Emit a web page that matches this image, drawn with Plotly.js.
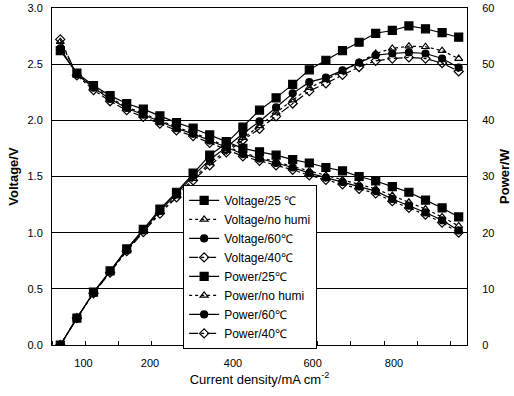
<!DOCTYPE html>
<html><head><meta charset="utf-8">
<script src="https://cdn.plot.ly/plotly-3.0.1.min.js"></script>
<style>html,body{margin:0;padding:0;background:#fff}#chart{width:514px;height:396px}</style>
</head><body><div id="chart"></div>
<script>
// category index positions (equally spaced measurement points)
const pointIndex = [0,1,2,3,4,5,6,7,8,9,10,11,12,13,14,15,16,17,18,19,20,21,22,23,24];
// axis labels and the category positions where they are printed
const tickLabels = ['100','200','400','600','800'];
const tickPositions = [1.4, 5.4, 10.4, 15.2, 20.1];

const voltage25  = [2.62,2.42,2.31,2.22,2.15,2.10,2.04,1.98,1.93,1.87,1.81,1.75,1.72,1.69,1.65,1.62,1.58,1.55,1.50,1.46,1.41,1.36,1.29,1.22,1.14];
const voltageNoH = [2.70,2.41,2.30,2.20,2.12,2.06,2.00,1.94,1.89,1.83,1.77,1.71,1.67,1.63,1.59,1.55,1.51,1.47,1.43,1.39,1.33,1.27,1.21,1.14,1.06];
const voltage60  = [2.64,2.41,2.29,2.19,2.11,2.05,1.99,1.93,1.88,1.82,1.76,1.70,1.66,1.62,1.58,1.53,1.49,1.45,1.41,1.37,1.30,1.24,1.18,1.11,1.02];
const voltage40  = [2.72,2.40,2.27,2.17,2.09,2.03,1.97,1.91,1.86,1.80,1.74,1.68,1.64,1.60,1.56,1.51,1.47,1.43,1.39,1.35,1.28,1.22,1.16,1.09,1.00];

const power25  = [0,4.8,9.4,13.2,17.1,20.6,24.2,27.2,30.6,33.8,35.9,38.8,41.8,44.0,46.4,49.0,50.7,52.4,53.9,55.5,56.0,56.8,56.3,55.6,54.8];
const powerNoH = [0,4.8,9.2,13.0,16.8,20.2,23.6,26.5,29.6,32.4,34.6,36.9,39.0,41.4,43.6,45.8,47.2,48.8,50.3,51.9,52.8,53.2,53.1,52.4,51.0];
const power60  = [0,4.8,9.3,13.1,16.9,20.4,23.9,26.9,30.1,33.0,35.2,37.6,39.8,42.3,44.8,46.8,47.6,48.9,50.3,51.6,51.9,52.1,51.9,51.0,49.4];
const power40  = [0,4.8,9.2,12.9,16.7,20.1,23.4,26.3,29.3,32.0,34.3,36.5,38.5,40.7,43.0,45.2,46.6,48.1,49.5,50.6,51.0,51.2,51.0,50.2,48.7];

const seriesNames = ['Voltage/25 ℃','Voltage/no humi','Voltage/60℃','Voltage/40℃','Power/25℃','Power/no humi','Power/60℃','Power/40℃'];

function tr(name, y, axis, dash, symbol, size){
  return {x: pointIndex, y: y, name: name, yaxis: axis, type:'scatter', mode:'lines+markers',
    line:{color:'black', width:1.2, dash:dash},
    marker:{symbol:symbol, size:size, color:'black', line:{color:'black', width:1.2}}};
}
const data = [
  tr(seriesNames[0], voltage25,  'y',  'solid',   'square', 8),
  tr(seriesNames[1], voltageNoH, 'y',  'dot',     'triangle-up-open', 7),
  tr(seriesNames[2], voltage60,  'y',  'solid',   'circle', 7),
  tr(seriesNames[3], voltage40,  'y',  'dashdot', 'diamond-open', 7),
  tr(seriesNames[4], power25,  'y2', 'solid',   'square', 8),
  tr(seriesNames[5], powerNoH, 'y2', 'dot',     'triangle-up-open', 7),
  tr(seriesNames[6], power60,  'y2', 'solid',   'circle', 7),
  tr(seriesNames[7], power40,  'y2', 'dashdot', 'diamond-open', 7)
];

const layout = {
  width:514, height:396,
  margin:{l:52, r:47, t:8, b:51},
  paper_bgcolor:'white', plot_bgcolor:'white',
  font:{family:'"Liberation Sans", Arial, sans-serif', color:'black', size:11},
  showlegend:true,
  legend:{x:0.316, y:0.475, xanchor:'left', yanchor:'top', bgcolor:'white',
    bordercolor:'black', borderwidth:1, font:{size:12}, tracegroupgap:0},
  xaxis:{range:[-0.5,24.5], tickmode:'array', tickvals:tickPositions, ticktext:tickLabels,
    ticks:'', ticklabelstandoff:8, showgrid:false, zeroline:false, showline:true, linecolor:'black', linewidth:1, mirror:true,
    minor:{tickmode:'linear', tick0:-0.5, dtick:2, ticks:'inside', ticklen:4, tickcolor:'black', showgrid:false},
    title:{text:'Current density/mA cm<sup>-2</sup>', font:{size:13}, standoff:6}},
  yaxis:{range:[0,3], dtick:0.5, tickformat:'.1f', showgrid:true, gridcolor:'black', gridwidth:1,
    zeroline:false, showline:true, linecolor:'black', linewidth:1, ticks:'', ticklabelstandoff:6,
    title:{text:'<b>Voltage/V</b>', font:{size:13}, standoff:5}},
  yaxis2:{range:[0,60], dtick:10, overlaying:'y', side:'right', showgrid:false, zeroline:false,
    showline:true, linecolor:'black', linewidth:1, ticks:'', ticklabelstandoff:12,
    title:{text:'<b>Power/W</b>', font:{size:13}, standoff:6}}
};
Plotly.newPlot('chart', data, layout, {displayModeBar:false, staticPlot:true});
</script></body></html>
